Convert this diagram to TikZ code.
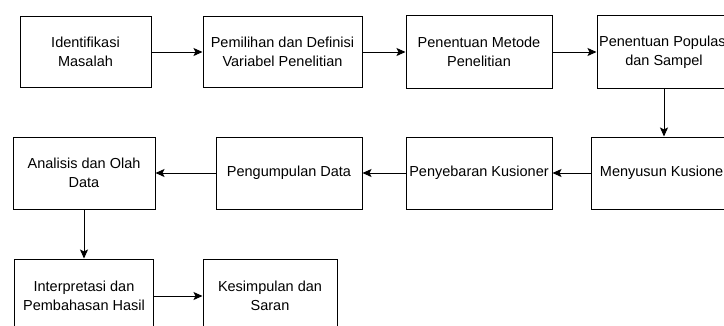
\documentclass[tikz,border=0pt]{standalone}
\usepackage{fontspec}
\setmainfont{Liberation Sans}
\usetikzlibrary{arrows.meta}

\tikzset{
  stepbox/.style={draw, line width=1pt, align=center, inner sep=0pt,
    font=\fontsize{14.5}{19}\selectfont},
  flow/.style={line width=1pt, -{Stealth[length=9pt,width=8pt,inset=2pt]}}
}

\begin{document}
\begin{tikzpicture}[x=1pt,y=-1pt]

  \clip (0,0) rectangle (724,325);
  \useasboundingbox (0,0) rectangle (724,325);

  %% First row
  \node[stepbox, minimum width=131pt, minimum height=71pt] (ident) at (85.5,52)
    {Identifikasi\\Masalah};
  \node[stepbox, minimum width=159pt, minimum height=71pt] (pilih) at (282.5,52)
    {Pemilihan dan Definisi\\Variabel Penelitian};
  \node[stepbox, minimum width=146pt, minimum height=73pt] (metode) at (479,52)
    {Penentuan Metode\\Penelitian};
  \node[stepbox, minimum width=134pt, minimum height=73pt] (populasi) at (664,52)
    {Penentuan Populasi\\dan Sampel};

  %% Second row
  \node[stepbox, minimum width=146pt, minimum height=72pt] (susun) at (664,173)
    {Menyusun Kusioner};
  \node[stepbox, minimum width=146pt, minimum height=72pt] (sebar) at (479,173)
    {Penyebaran Kusioner};
  \node[stepbox, minimum width=146pt, minimum height=72pt] (kumpul) at (289,173)
    {Pengumpulan Data};
  \node[stepbox, minimum width=142pt, minimum height=72pt] (analisis) at (84,173)
    {Analisis dan Olah\\Data};

  %% Third row
  \node[stepbox, minimum width=139pt, minimum height=74pt] (interp) at (84,296)
    {Interpretasi dan\\Pembahasan Hasil};
  \node[stepbox, minimum width=134pt, minimum height=74pt] (simpul) at (270,296)
    {Kesimpulan dan\\Saran};

  %% Arrows between the steps
  \draw[flow] (ident.east) -- (pilih.west);
  \draw[flow] (pilih.east) -- (metode.west);
  \draw[flow] (metode.east) -- (populasi.west);
  \draw[flow] (populasi.south) -- (susun.north);
  \draw[flow] (susun.west) -- (sebar.east);
  \draw[flow] (sebar.west) -- (kumpul.east);
  \draw[flow] (kumpul.west) -- (analisis.east);
  \draw[flow] (analisis.south) -- (interp.north);
  \draw[flow] (interp.east) -- (simpul.west);

\end{tikzpicture}
\end{document}
